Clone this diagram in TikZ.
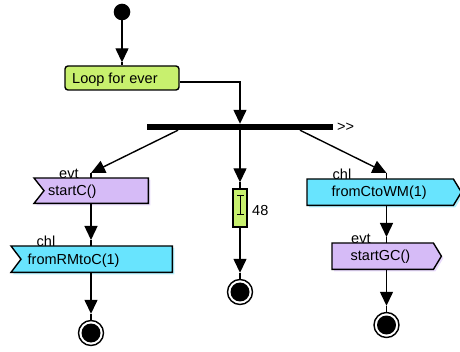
\documentclass[tikz,border=0pt]{standalone}
\usepackage{fontspec}
\setmainfont{Liberation Sans}
\usetikzlibrary{arrows.meta,shadows}
\definecolor{lgreen}{HTML}{C8F06E}
\definecolor{lav}{HTML}{D6BBF7}
\definecolor{lavsh}{HTML}{E8DAFB}
\definecolor{cyanb}{HTML}{68E4FE}
\definecolor{cyansh}{HTML}{B4F2FF}
\begin{document}
\begin{tikzpicture}[x=1pt,y=-1pt,
  every node/.style={font=\fontsize{14.5}{17}\selectfont},
  ln/.style={line width=1.4pt},
  arr/.style={ln,-{Triangle[width=13pt,length=14pt]}},
  body/.style={inner sep=0pt, anchor=north west},
  txt/.style={inner sep=0pt, anchor=base west},
  lavbox/.style={ln, draw=black, fill=lav, general shadow={fill=lavsh, shadow xshift=2pt, shadow yshift=-2pt}},
  cyanbox/.style={ln, draw=black, fill=cyanb, general shadow={fill=cyansh, shadow xshift=2pt, shadow yshift=-2pt}},
  final/.style={circle, draw, line width=1.4pt, fill=white, minimum size=25pt, inner sep=0pt}]
\useasboundingbox (0,0) rectangle (460,352);

% initial node and loop action
\node[circle, fill=black, minimum size=16.6pt, inner sep=0pt] (start) at (122,12) {};
\node[draw, ln, fill=lgreen, rounded corners=3pt, minimum width=114pt, minimum height=24pt, inner sep=0pt] (loop) at (122,78) {};
\node[txt] (loopt) at (72,84) {Loop for ever};
\draw[arr] (start) -- ([yshift=3pt]loop.north);
\draw[ln] ([yshift=3pt]loop.north) -- (loop.north);

% fork bar
\node[fill=black, minimum width=186pt, minimum height=6pt, inner sep=0pt] (bar) at (240,127) {};
\node[txt] (more) at (337,132) {\mbox{>}\kern0pt\mbox{>}};
\draw[arr] ([yshift=-4pt]loop.east) -| (bar.north);

% labels (drawn under the boxes)
\node[txt] (evt1) at (59,178.5) {evt};
\node[txt] (chl1) at (36.5,246.5) {chl};
\node[txt] (chl2) at (332.5,179.5) {chl};
\node[txt] (evt2) at (351,243.5) {evt};

% left column
\node[body, minimum width=114pt, minimum height=25pt] (sc) at (34,178) {};
\draw[lavbox] (sc.north west) -- (sc.north east) -- (sc.south east) -- (sc.south west) -- ([xshift=10pt]sc.west) -- cycle;
\node[txt] (sct) at (48,195.5) {startC()};
\node[body, minimum width=161pt, minimum height=26pt] (rm) at (11,246) {};
\draw[cyanbox] (rm.north west) -- (rm.north east) -- (rm.south east) -- (rm.south west) -- ([xshift=10pt]rm.west) -- cycle;
\node[txt] (rmt) at (27.5,265) {fromRMtoC(1)};
\node[final] (endL) at (91,333) {};
\fill (endL.center) circle (9.5pt);

% middle column
\node[draw, ln, fill=lgreen, minimum width=14pt, minimum height=38pt, inner sep=0pt] (tm) at (240,208) {};
\draw[line width=0.9pt] (237,195) -- (244,195) (240.5,195) -- (240.5,214) (237,214) -- (244,214);
\node[txt] (tmt) at (252,216) {48};
\node[final] (endM) at (240,292) {};
\fill (endM.center) circle (9.5pt);

% right column
\node[body, minimum width=146pt, minimum height=26pt] (wm) at (307,179) {};
\draw[cyanbox] (wm.north west) -- (wm.north east) -- ([xshift=8pt]wm.east) -- (wm.south east) -- (wm.south west) -- cycle;
\node[txt] (wmt) at (331.5,197) {fromCtoWM(1)};
\node[body, minimum width=101pt, minimum height=26pt] (gc) at (332,243) {};
\draw[lavbox] (gc.north west) -- (gc.north east) -- ([xshift=8pt]gc.east) -- (gc.south east) -- (gc.south west) -- cycle;
\node[txt] (gct) at (350.5,261) {startGC()};
\node[final] (endR) at (386.5,325) {};
\fill (endR.center) circle (9.5pt);

% connectors: left
\coordinate (tL) at (91,173);
\coordinate (tL2) at (91,240);
\draw[arr] ([xshift=-62pt]bar.south) -- (tL);
\draw[ln] (tL) -- (tL |- sc.north);
\draw[arr] (tL |- sc.south) -- (tL2);
\draw[ln] (tL2) -- (tL2 |- rm.north);
\draw[arr] (tL2 |- rm.south) -- ([yshift=6pt]endL.north);
\draw[ln] ([yshift=6pt]endL.north) -- (endL.north);

% connectors: middle
\draw[arr] (bar.south) -- ([yshift=6pt]tm.north);
\draw[ln] ([yshift=6pt]tm.north) -- (tm.north);
\draw[arr] (tm.south) -- ([yshift=6pt]endM.north);
\draw[ln] ([yshift=6pt]endM.north) -- (endM.north);

% connectors: right
\coordinate (tR) at (386.5,173);
\coordinate (tR2) at (386.5,237);
\draw[arr] ([xshift=60pt]bar.south) -- (tR);
\draw[ln] (tR) -- (tR |- wm.north);
\draw[arr] (tR |- wm.south) -- (tR2);
\draw[ln] (tR2) -- (tR2 |- gc.north);
\draw[arr] (tR2 |- gc.south) -- ([yshift=6pt]endR.north);
\draw[ln] ([yshift=6pt]endR.north) -- (endR.north);
\end{tikzpicture}
\end{document}
